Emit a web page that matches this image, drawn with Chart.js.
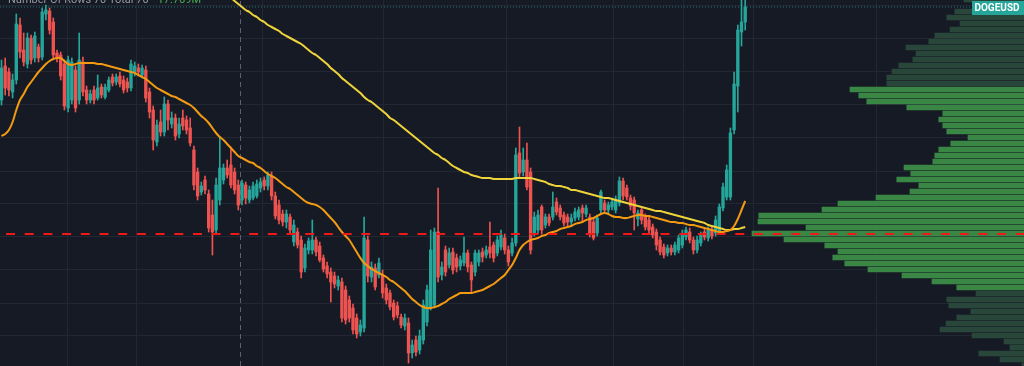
<!DOCTYPE html>
<html><head><meta charset="utf-8">
<script src="https://cdn.jsdelivr.net/npm/chart.js@4.4.1/dist/chart.umd.min.js"></script>
<style>html,body{margin:0;padding:0;background:#161a25;overflow:hidden}canvas{display:block}</style>
</head><body>
<canvas id="c" width="1024" height="366"></canvas>
<script>
// ---------- DATA ----------
const symbol = 'DOGEUSD';
const profileTitle = 'Number Of Rows 70 Total 70';
const profileTotal = '17.769M';

const opens = [0.0900,0.0934,0.0928,0.0908,0.0920,0.0975,0.0950,0.0936,0.0962,0.0942,
0.0953,0.0943,0.0986,0.0989,0.0978,0.0947,0.0945,0.0936,0.0892,0.0900,
0.0930,0.0900,0.0938,0.0910,0.0900,0.0910,0.0902,0.0913,0.0903,0.0910,
0.0923,0.0918,0.0924,0.0920,0.0918,0.0912,0.0928,0.0932,0.0925,0.0930,
0.0908,0.0890,0.0858,0.0878,0.0868,0.0896,0.0876,0.0882,0.0866,0.0882,
0.0880,0.0872,0.0850,0.0828,0.0808,0.0820,0.0806,0.0785,0.0770,0.0800,
0.0820,0.0832,0.0835,0.0828,0.0815,0.0800,0.0815,0.0800,0.0802,0.0804,
0.0812,0.0820,0.0814,0.0824,0.0804,0.0795,0.0786,0.0778,0.0783,0.0758,
0.0768,0.0760,0.0732,0.0750,0.0750,0.0760,0.0754,0.0742,0.0734,0.0728,
0.0724,0.0714,0.0718,0.0710,0.0700,0.0692,0.0682,0.0668,0.0672,0.0760,
0.0723,0.0732,0.0725,0.0725,0.0712,0.0707,0.0697,0.0694,0.0683,0.0674,
0.0677,0.0647,0.0660,0.0650,0.0660,0.0678,0.0693,0.0695,0.0768,0.0725,
0.0750,0.0735,0.0748,0.0742,0.0734,0.0737,0.0747,0.0735,0.0728,0.0738,
0.0748,0.0745,0.0753,0.0755,0.0747,0.0753,0.0762,0.0750,0.0747,0.0757,
0.0847,0.0828,0.0840,0.0828,0.0767,0.0770,0.0793,0.0775,0.0783,0.0783,
0.0798,0.0792,0.0785,0.0783,0.0778,0.0782,0.0783,0.0792,0.0786,0.0783,
0.0778,0.0767,0.0790,0.0797,0.0790,0.0793,0.0790,0.0797,0.0819,0.0812,
0.0802,0.0800,0.0781,0.0790,0.0783,0.0780,0.0773,0.0768,0.0760,0.0753,
0.0747,0.0752,0.0748,0.0750,0.0755,0.0763,0.0768,0.0760,0.0750,0.0757,
0.0768,0.0762,0.0770,0.0767,0.0768,0.0792,0.0803,0.0803,0.0870,0.0914,
0.0968,0.0978];

const closes = [0.0932,0.0912,0.0910,0.0920,0.0976,0.0948,0.0938,0.0962,0.0940,0.0964,
0.0942,0.0988,0.0990,0.0970,0.0945,0.0942,0.0924,0.0894,0.0940,0.0938,
0.0892,0.0940,0.0908,0.0900,0.0906,0.0900,0.0912,0.0905,0.0913,0.0920,
0.0917,0.0923,0.0916,0.0910,0.0912,0.0936,0.0934,0.0928,0.0932,0.0902,
0.0888,0.0860,0.0875,0.0868,0.0896,0.0880,0.0882,0.0864,0.0876,0.0874,
0.0870,0.0857,0.0815,0.0804,0.0814,0.0810,0.0772,0.0768,0.0815,0.0832,
0.0832,0.0825,0.0815,0.0810,0.0795,0.0817,0.0802,0.0810,0.0814,0.0816,
0.0818,0.0814,0.0825,0.0804,0.0784,0.0780,0.0778,0.0786,0.0770,0.0775,
0.0755,0.0728,0.0752,0.0759,0.0760,0.0748,0.0740,0.0731,0.0726,0.0718,
0.0716,0.0720,0.0682,0.0680,0.0682,0.0670,0.0666,0.0675,0.0762,0.0724,
0.0733,0.0713,0.0737,0.0707,0.0700,0.0693,0.0683,0.0685,0.0675,0.0682,
0.0647,0.0655,0.0648,0.0664,0.0695,0.0710,0.0750,0.0768,0.0723,0.0733,
0.0728,0.0747,0.0730,0.0733,0.0740,0.0747,0.0733,0.0720,0.0747,0.0747,
0.0743,0.0750,0.0747,0.0742,0.0760,0.0765,0.0750,0.0738,0.0757,0.0845,
0.0827,0.0840,0.0813,0.0750,0.0783,0.0785,0.0770,0.0783,0.0777,0.0793,
0.0788,0.0783,0.0777,0.0778,0.0782,0.0788,0.0790,0.0787,0.0792,0.0767,
0.0762,0.0782,0.0808,0.0790,0.0795,0.0798,0.0800,0.0819,0.0804,0.0803,
0.0794,0.0787,0.0787,0.0780,0.0773,0.0770,0.0765,0.0755,0.0748,0.0745,
0.0752,0.0748,0.0755,0.0762,0.0766,0.0770,0.0760,0.0750,0.0760,0.0765,
0.0763,0.0770,0.0764,0.0780,0.0793,0.0813,0.0830,0.0867,0.0916,0.0970,
0.0978,0.0993];

const highs = [0.0940,0.0942,0.0932,0.0926,0.0986,0.0982,0.0967,0.0967,0.0965,0.0968,
0.0956,0.0992,0.0995,0.0992,0.0982,0.0950,0.0948,0.0940,0.0944,0.0942,
0.0934,0.0967,0.0943,0.0914,0.0910,0.0914,0.0925,0.0916,0.0916,0.0923,
0.0926,0.0926,0.0928,0.0924,0.0922,0.0940,0.0938,0.0936,0.0935,0.0934,
0.0912,0.0894,0.0880,0.0890,0.0903,0.0900,0.0888,0.0886,0.0882,0.0890,
0.0884,0.0882,0.0854,0.0832,0.0818,0.0824,0.0810,0.0800,0.0822,0.0863,
0.0836,0.0840,0.0853,0.0832,0.0820,0.0820,0.0818,0.0814,0.0818,0.0820,
0.0822,0.0823,0.0828,0.0828,0.0808,0.0800,0.0790,0.0790,0.0786,0.0780,
0.0772,0.0764,0.0756,0.0762,0.0780,0.0763,0.0758,0.0745,0.0738,0.0732,
0.0728,0.0724,0.0722,0.0714,0.0704,0.0696,0.0686,0.0680,0.0783,0.0764,
0.0738,0.0736,0.0742,0.0730,0.0716,0.0710,0.0700,0.0698,0.0686,0.0686,
0.0682,0.0660,0.0664,0.0670,0.0700,0.0715,0.0770,0.0772,0.0812,0.0738,
0.0754,0.0752,0.0752,0.0746,0.0744,0.0763,0.0750,0.0738,0.0750,0.0750,
0.0752,0.0754,0.0778,0.0758,0.0764,0.0770,0.0766,0.0754,0.0762,0.0852,
0.0873,0.0852,0.0857,0.0832,0.0788,0.0790,0.0795,0.0786,0.0786,0.0808,
0.0802,0.0795,0.0788,0.0786,0.0786,0.0792,0.0793,0.0795,0.0795,0.0786,
0.0782,0.0785,0.0810,0.0800,0.0798,0.0802,0.0804,0.0823,0.0822,0.0815,
0.0805,0.0803,0.0790,0.0793,0.0786,0.0783,0.0776,0.0771,0.0763,0.0756,
0.0755,0.0755,0.0758,0.0765,0.0770,0.0773,0.0772,0.0763,0.0764,0.0768,
0.0771,0.0773,0.0774,0.0784,0.0796,0.0817,0.0835,0.0872,0.0928,0.0975,
0.1000,0.1005];

const lows = [0.0895,0.0905,0.0904,0.0902,0.0916,0.0942,0.0934,0.0932,0.0936,0.0938,
0.0938,0.0940,0.0980,0.0966,0.0942,0.0938,0.0920,0.0890,0.0888,0.0896,
0.0888,0.0896,0.0904,0.0896,0.0897,0.0896,0.0900,0.0902,0.0901,0.0908,
0.0914,0.0915,0.0913,0.0907,0.0908,0.0909,0.0924,0.0924,0.0922,0.0898,
0.0882,0.0850,0.0854,0.0864,0.0864,0.0870,0.0872,0.0860,0.0862,0.0870,
0.0866,0.0854,0.0810,0.0800,0.0805,0.0806,0.0768,0.0745,0.0766,0.0795,
0.0816,0.0822,0.0812,0.0806,0.0790,0.0795,0.0796,0.0797,0.0800,0.0802,
0.0808,0.0810,0.0810,0.0800,0.0781,0.0776,0.0774,0.0772,0.0766,0.0754,
0.0752,0.0722,0.0728,0.0746,0.0746,0.0744,0.0738,0.0728,0.0722,0.0698,
0.0712,0.0710,0.0678,0.0676,0.0678,0.0666,0.0662,0.0664,0.0668,0.0718,
0.0718,0.0710,0.0722,0.0702,0.0696,0.0690,0.0680,0.0682,0.0672,0.0670,
0.0637,0.0642,0.0644,0.0646,0.0656,0.0674,0.0690,0.0692,0.0718,0.0720,
0.0724,0.0732,0.0726,0.0728,0.0730,0.0734,0.0728,0.0707,0.0724,0.0734,
0.0738,0.0742,0.0742,0.0738,0.0744,0.0750,0.0746,0.0734,0.0744,0.0754,
0.0822,0.0824,0.0810,0.0746,0.0764,0.0767,0.0766,0.0772,0.0774,0.0780,
0.0785,0.0780,0.0774,0.0774,0.0774,0.0779,0.0780,0.0778,0.0783,0.0763,
0.0760,0.0764,0.0787,0.0787,0.0787,0.0790,0.0787,0.0794,0.0800,0.0800,
0.0790,0.0770,0.0774,0.0776,0.0770,0.0767,0.0762,0.0750,0.0745,0.0742,
0.0744,0.0745,0.0745,0.0747,0.0752,0.0760,0.0757,0.0746,0.0747,0.0754,
0.0760,0.0759,0.0761,0.0764,0.0766,0.0789,0.0800,0.0800,0.0866,0.0888,
0.0954,0.0970];

// moving averages (one value per candle)
const maFast = [0.0864,0.0866,0.0870,0.0878,0.0890,0.0900,0.0906,0.0913,0.0918,0.0923,
0.0928,0.0932,0.0936,0.0939,0.0941,0.0942,0.0942,0.0939,0.0936,0.0935,
0.0936,0.0937,0.0937,0.0937,0.0937,0.0937,0.0936,0.0936,0.0935,0.0934,
0.0933,0.0932,0.0931,0.0930,0.0929,0.0928,0.0927,0.0925,0.0923,0.0921,
0.0918,0.0915,0.0912,0.0910,0.0908,0.0906,0.0904,0.0903,0.0901,0.0899,
0.0897,0.0895,0.0892,0.0888,0.0884,0.0881,0.0877,0.0872,0.0867,0.0863,
0.0860,0.0856,0.0852,0.0848,0.0844,0.0842,0.0840,0.0838,0.0837,0.0834,
0.0832,0.0829,0.0826,0.0824,0.0822,0.0819,0.0816,0.0813,0.0811,0.0808,
0.0805,0.0802,0.0799,0.0797,0.0796,0.0795,0.0793,0.0790,0.0786,0.0782,
0.0778,0.0773,0.0768,0.0764,0.0760,0.0754,0.0748,0.0742,0.0737,0.0734,
0.0731,0.0729,0.0727,0.0725,0.0723,0.0720,0.0718,0.0715,0.0712,0.0709,
0.0705,0.0701,0.0698,0.0695,0.0693,0.0692,0.0692,0.0693,0.0694,0.0696,
0.0698,0.0701,0.0703,0.0705,0.0707,0.0707,0.0707,0.0707,0.0708,0.0709,
0.0710,0.0712,0.0714,0.0716,0.0719,0.0722,0.0725,0.0730,0.0735,0.0742,
0.0750,0.0755,0.0758,0.0760,0.0761,0.0762,0.0764,0.0765,0.0767,0.0768,
0.0769,0.0771,0.0772,0.0773,0.0774,0.0776,0.0777,0.0778,0.0780,0.0781,
0.0782,0.0784,0.0786,0.0787,0.0786,0.0784,0.0783,0.0783,0.0782,0.0782,
0.0783,0.0784,0.0785,0.0785,0.0784,0.0784,0.0783,0.0782,0.0781,0.0780,
0.0779,0.0778,0.0778,0.0777,0.0777,0.0776,0.0775,0.0775,0.0774,0.0773,
0.0772,0.0771,0.0770,0.0769,0.0768,0.0768,0.0769,0.0770,0.0774,0.0781,
0.0790,0.0799];

const maSlowStart = 60; // first candle index where the slow average is shown
const maSlow = [0.1007,0.1004,0.1002,0.0999,0.0996,0.0993,0.0990,0.0988,0.0985,0.0983,
0.0980,0.0978,0.0975,0.0973,0.0971,0.0969,0.0966,0.0964,0.0962,0.0960,
0.0958,0.0956,0.0953,0.0950,0.0947,0.0945,0.0942,0.0939,0.0936,0.0932,
0.0929,0.0926,0.0922,0.0919,0.0916,0.0913,0.0910,0.0907,0.0903,0.0900,
0.0898,0.0895,0.0892,0.0889,0.0886,0.0882,0.0880,0.0877,0.0874,0.0871,
0.0868,0.0865,0.0862,0.0859,0.0856,0.0853,0.0850,0.0847,0.0845,0.0842,
0.0840,0.0837,0.0834,0.0832,0.0830,0.0828,0.0827,0.0825,0.0824,0.0823,
0.0822,0.0822,0.0822,0.0821,0.0821,0.0821,0.0821,0.0821,0.0821,0.0822,
0.0822,0.0822,0.0822,0.0822,0.0821,0.0820,0.0819,0.0818,0.0816,0.0815,
0.0814,0.0814,0.0813,0.0812,0.0810,0.0810,0.0809,0.0808,0.0807,0.0806,
0.0805,0.0804,0.0803,0.0802,0.0802,0.0801,0.0800,0.0799,0.0798,0.0797,
0.0796,0.0795,0.0794,0.0793,0.0792,0.0791,0.0790,0.0789,0.0789,0.0788,
0.0787,0.0786,0.0785,0.0784,0.0783,0.0782,0.0781,0.0780,0.0779,0.0778,
0.0777,0.0775,0.0774,0.0773,0.0772,0.0771,0.0770,0.0770,0.0771,0.0771,
0.0772,0.0773];

// volume profile rows (price level -> volume, thousands)
const profilePrices = [0.10005,0.09945,0.09885,0.09825,0.09765,0.09705,0.09645,0.09585,0.09525,0.09465,
0.09405,0.09345,0.09285,0.09225,0.09165,0.09105,0.09045,0.08985,0.08925,0.08865,
0.08805,0.08745,0.08685,0.08625,0.08565,0.08505,0.08445,0.08385,0.08325,0.08265,
0.08205,0.08145,0.08085,0.08025,0.07965,0.07905,0.07845,0.07785,0.07725,0.07665,
0.07605,0.07545,0.07485,0.07425,0.07365,0.07305,0.07245,0.07185,0.07125,0.07065,
0.07005,0.06945,0.06885,0.06825,0.06765,0.06705,0.06645,0.06585,0.06525,0.06465,
0.06405,0.06345];
const profileVolumes = [150,98,173,193,160,185,223,238,295,270,
278,313,330,343,343,435,413,393,293,203,
213,203,193,140,183,213,223,228,300,283,
318,263,285,370,465,505,663,665,545,680,
600,498,465,478,448,390,305,230,168,120,
193,188,133,168,195,210,130,50,35,113,
60,5];
const valueAreaHigh = 0.09105;
const valueAreaLow = 0.07125;
const pocPrice = 0.0766;

// grid tick values
const priceTicks = [0.0995,0.0962,0.0929,0.0896,0.0863,0.0829,0.0796,0.0763,0.0731,0.0697,0.0664];
const timeTicks = [17.97,36.62,70.41,103.11,136.62,165.27,184.19,203.11,236.62];
const sessionBreak = 64.6;

// ---------- STYLE / AXES ----------
const X_MIN = -0.405, X_MAX = 276.35;
const Y_MIN = 0.0634, Y_MAX = 0.1000;
const VOL_MAX = 2560;
const UP = '#26a69a', DOWN = '#ef5350';
const GRID = '#232733';

const candleColor = ctx => closes[ctx.dataIndex] >= opens[ctx.dataIndex] ? UP : DOWN;

const overlay = {
  id: 'overlay',
  afterDatasetsDraw(chart) {
    const ctx = chart.ctx;
    const y = chart.scales.y.getPixelForValue(closes[closes.length - 1]);
    ctx.save();
    ctx.fillStyle = UP;
    ctx.fillRect(972, Math.round(y) - 6, 52, 14);
    ctx.fillStyle = '#ffffff';
    ctx.font = 'bold 10px Roboto';
    ctx.textAlign = 'center';
    ctx.textBaseline = 'middle';
    ctx.fillText(symbol, 997, Math.round(y) + 1.5);
    ctx.textAlign = 'left';
    ctx.textBaseline = 'alphabetic';
    ctx.font = '11px Roboto';
    ctx.fillStyle = '#9598a1';
    ctx.fillText(profileTitle, 8, 3);
    const w = ctx.measureText(profileTitle).width;
    ctx.fillStyle = '#4caf50';
    ctx.fillText(profileTotal, 8 + w + 9, 3);
    ctx.restore();
  }
};

new Chart(document.getElementById('c'), {
  type: 'line',
  data: {
    datasets: [
      {
        type: 'bar', indexAxis: 'y', xAxisID: 'xv', yAxisID: 'y',
        data: profilePrices.map((p, i) => ({ x: profileVolumes[i], y: p })),
        backgroundColor: ctx => {
          const p = profilePrices[ctx.dataIndex];
          return (p <= valueAreaHigh && p >= valueAreaLow) ? '#3a8745' : '#29463a';
        },
        barThickness: 5, grouped: false, borderWidth: 0, order: 6
      },
      {
        type: 'line', xAxisID: 'x', yAxisID: 'y',
        data: [{ x: sessionBreak, y: Y_MIN }, { x: sessionBreak, y: Y_MAX }],
        borderColor: '#60636e', borderWidth: 1, borderDash: [5, 4],
        pointRadius: 0, fill: false, order: 7
      },
      {
        type: 'bar', xAxisID: 'x', yAxisID: 'y',
        data: highs.map((h, i) => ({ x: i, y: [lows[i], h] })),
        backgroundColor: candleColor, barThickness: 1, grouped: false,
        borderWidth: 0, order: 5
      },
      {
        type: 'bar', xAxisID: 'x', yAxisID: 'y',
        data: opens.map((o, i) => ({ x: i, y: [o, closes[i]] })),
        backgroundColor: candleColor, barThickness: 2.7, grouped: false,
        borderWidth: 0, order: 4
      },
      {
        type: 'line', xAxisID: 'x', yAxisID: 'y',
        data: [{ x: X_MIN, y: closes[closes.length - 1] }, { x: X_MAX, y: closes[closes.length - 1] }],
        borderColor: 'rgba(38,166,154,0.65)', borderWidth: 1, borderDash: [1, 2],
        pointRadius: 0, fill: false, order: 3
      },
      {
        type: 'line', xAxisID: 'x', yAxisID: 'y',
        data: maFast.map((v, i) => ({ x: i, y: v })),
        borderColor: '#f29a12', borderWidth: 2, pointRadius: 0, fill: false,
        tension: 0.3, order: 2
      },
      {
        type: 'line', xAxisID: 'x', yAxisID: 'y',
        data: maSlow.map((v, i) => ({ x: maSlowStart + i, y: v })),
        borderColor: '#eed43a', borderWidth: 2, pointRadius: 0, fill: false,
        tension: 0.3, order: 2
      },
      {
        type: 'line', xAxisID: 'x', yAxisID: 'y',
        data: [{ x: X_MIN, y: pocPrice }, { x: X_MAX, y: pocPrice }],
        borderColor: '#f01818', borderWidth: 2, borderDash: [9, 9.7], borderDashOffset: 12.7,
        pointRadius: 0, fill: false, order: 0
      }
    ]
  },
  options: {
    responsive: false, animation: false, devicePixelRatio: 1,
    layout: { padding: 0 },
    plugins: { legend: { display: false }, tooltip: { enabled: false } },
    events: [],
    scales: {
      x: {
        type: 'linear', axis: 'x', min: X_MIN, max: X_MAX, offset: false,
        afterBuildTicks: s => { s.ticks = timeTicks.map(v => ({ value: v })); },
        ticks: { display: false },
        grid: { color: GRID, drawTicks: false, offset: false },
        border: { display: false }
      },
      y: {
        type: 'linear', axis: 'y', min: Y_MIN, max: Y_MAX, offset: false, beginAtZero: false,
        afterBuildTicks: s => { s.ticks = priceTicks.map(v => ({ value: v })); },
        ticks: { display: false },
        grid: { color: GRID, drawTicks: false, offset: false },
        border: { display: false }
      },
      xv: {
        type: 'linear', axis: 'x', display: false, reverse: true, min: 0, max: VOL_MAX, offset: false
      }
    }
  },
  plugins: [overlay]
});
</script>
</body></html>
